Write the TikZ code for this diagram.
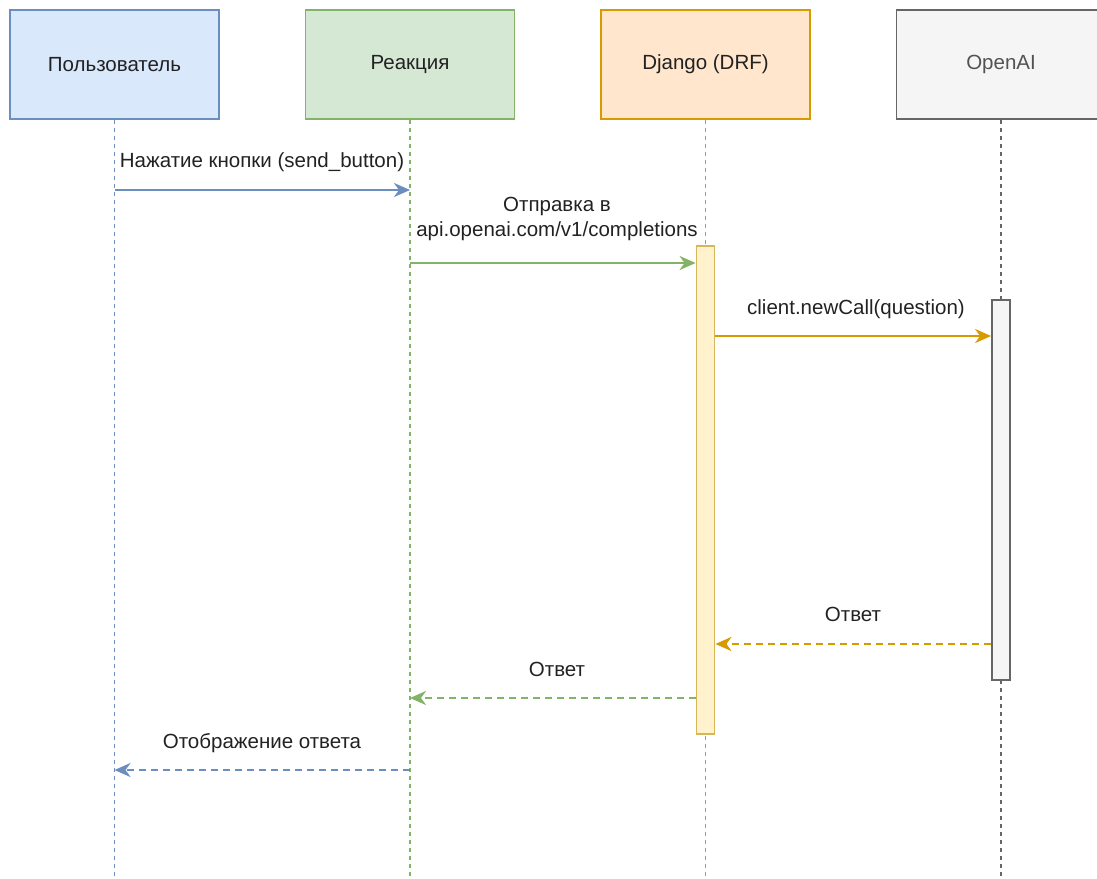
\documentclass[tikz,border=0pt]{standalone}
\usepackage{fontspec}
\setmainfont{Liberation Sans}
\usetikzlibrary{arrows.meta}
\definecolor{bluef}{HTML}{DAE8FC}\definecolor{blued}{HTML}{6C8EBF}
\definecolor{greenf}{HTML}{D5E8D4}\definecolor{greend}{HTML}{82B366}
\definecolor{orangef}{HTML}{FFE6CC}\definecolor{oranged}{HTML}{D79B00}
\definecolor{greyf}{HTML}{F5F5F5}\definecolor{greyd}{HTML}{666666}
\definecolor{actf}{HTML}{FFF2CC}\definecolor{actd}{HTML}{D6B656}
\definecolor{txt}{HTML}{222222}
\begin{document}
\begin{tikzpicture}[x=1pt,y=-1pt,
  font=\fontsize{20.5}{25}\selectfont,
  head/.style={draw,line width=1.8pt,minimum width=209pt,minimum height=109pt,inner sep=0pt,text=txt},
  life/.style={dash pattern=on 4pt off 4pt,line width=1.6pt},
  act/.style={draw,line width=1.8pt,inner sep=0pt,minimum width=18pt},
  msg/.style={line width=2.4pt,-{Stealth[length=16pt,width=14pt,inset=5pt]}},
  ret/.style={msg,dash pattern=on 7pt off 5pt},
  lbl/.style={text=txt,inner sep=0pt,align=center}]
\useasboundingbox (0,0) rectangle (1097,878);
\clip (0,0) rectangle (1097,878);
% heads
\node[head,fill=bluef,draw=blued] (u) at (114.5,64.5) {Пользователь};
\node[head,fill=greenf,draw=greend] (r) at (410,64.5) {Реакция};
\node[head,fill=orangef,draw=oranged] (d) at (705.5,64.5) {Django (DRF)};
\node[head,fill=greyf,draw=greyd,text=greyd!80!black] (o) at (1001,64.5) {OpenAI};
% lifeline ends
\coordinate (ue) at (114.5,880);
\coordinate (re) at (410,880);
\coordinate (de) at (705.5,880);
\coordinate (oe) at (1001,880);
\draw[life,draw=blued] (u.south) -- (ue);
\draw[life,draw=greend] (r.south) -- (re);
\draw[life,draw=oranged] (d.south) -- (de);
\draw[life,draw=greyd] (o.south) -- (oe);
% activations
\node[act,fill=actf,draw=actd,minimum height=488pt] (da) at (705.5,490) {};
\node[act,fill=greyf,draw=greyd,minimum height=380pt] (oa) at (1001,490) {};
% message points
\coordinate (m1s) at (114.5,190); \coordinate (m1e) at (410,190);
\coordinate (m2s) at (410,263);
\coordinate (m5e) at (410,698);
\coordinate (m6s) at (410,770); \coordinate (m6e) at (114.5,770);
% messages
\draw[msg,draw=blued] (m1s) -- (m1e);
\node[lbl] (l1) at (262,162) {Нажатие кнопки (send\_button)};
\draw[msg,draw=greend] (m2s) -- (m2s -| da.west);
\node[lbl] (l2a) at (557,206) {Отправка в};
\node[lbl] (l2b) at (557,231) {api.openai.com/v1/completions};
\draw[msg,draw=oranged] (da.east |- 0,336) -- (oa.west |- 0,336);
\node[lbl] (l3) at (856,309) {client.newCall(question)};
\draw[ret,draw=oranged] (oa.west |- 0,644) -- (da.east |- 0,644);
\node[lbl] (l4) at (853,614) {Ответ};
\draw[ret,draw=greend] (da.west |- 0,698) -- (m5e);
\node[lbl] (l5) at (557,669) {Ответ};
\draw[ret,draw=blued] (m6s) -- (m6e);
\node[lbl] (l6) at (262,743) {Отображение ответа};
\end{tikzpicture}
\end{document}
